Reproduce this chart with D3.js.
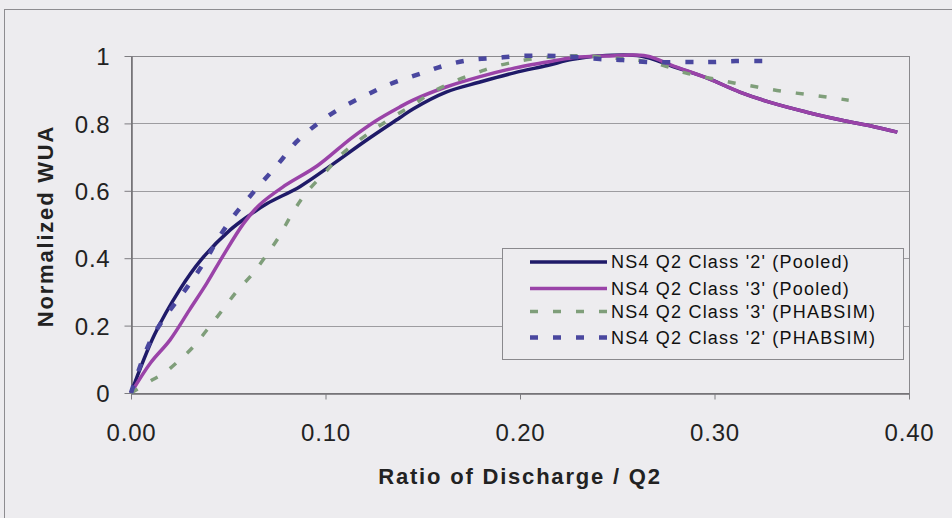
<!DOCTYPE html>
<html>
<head>
<meta charset="utf-8">
<script src="https://cdn.jsdelivr.net/npm/d3@7"></script>
<style>
  html, body { margin: 0; padding: 0; background: #edecef; }
  svg { display: block; font-family: "Liberation Sans", Arial, sans-serif; }
</style>
</head>
<body>
<svg id="chart" width="952" height="518"></svg>
<script>
// series values
var pooled2X = [0, 0.012, 0.025, 0.036, 0.051, 0.061, 0.070, 0.087, 0.104, 0.121, 0.138, 0.145, 0.162, 0.179, 0.197, 0.214, 0.227, 0.240, 0.262, 0.279, 0.296, 0.313, 0.330, 0.347, 0.365, 0.382, 0.394];
var pooled2Y = [0, 0.172, 0.306, 0.395, 0.484, 0.528, 0.562, 0.613, 0.680, 0.750, 0.816, 0.843, 0.893, 0.922, 0.950, 0.972, 0.990, 1.0, 1.0, 0.968, 0.935, 0.893, 0.860, 0.834, 0.810, 0.790, 0.774];

var pooled3X = [0, 0.010, 0.020, 0.030, 0.039, 0.047, 0.058, 0.066, 0.078, 0.096, 0.113, 0.126, 0.138, 0.145, 0.162, 0.179, 0.197, 0.214, 0.227, 0.245, 0.265, 0.279, 0.296, 0.313, 0.330, 0.347, 0.365, 0.382, 0.394];
var pooled3Y = [0, 0.089, 0.157, 0.246, 0.326, 0.404, 0.504, 0.558, 0.611, 0.675, 0.755, 0.808, 0.848, 0.869, 0.908, 0.938, 0.964, 0.982, 0.995, 1.0, 1.0, 0.970, 0.935, 0.893, 0.860, 0.834, 0.810, 0.790, 0.774];

var phab3X = [0, 0.011, 0.017, 0.025, 0.032, 0.039, 0.047, 0.055, 0.062, 0.069, 0.076, 0.083, 0.090, 0.101, 0.109, 0.123, 0.135, 0.145, 0.155, 0.168, 0.179, 0.186, 0.197, 0.210, 0.224, 0.234, 0.248, 0.260, 0.273, 0.285, 0.297, 0.310, 0.322, 0.334, 0.346, 0.358, 0.369];
var phab3Y = [0, 0.039, 0.059, 0.098, 0.137, 0.187, 0.246, 0.306, 0.350, 0.404, 0.463, 0.534, 0.593, 0.662, 0.712, 0.774, 0.820, 0.855, 0.893, 0.929, 0.953, 0.967, 0.982, 0.994, 1.0, 1.0, 0.994, 0.988, 0.973, 0.950, 0.935, 0.920, 0.908, 0.896, 0.887, 0.878, 0.869];

var phab2X = [0, 0.011, 0.029, 0.034, 0.041, 0.044, 0.052, 0.063, 0.076, 0.085, 0.097, 0.109, 0.121, 0.132, 0.150, 0.162, 0.174, 0.187, 0.200, 0.220, 0.241, 0.253, 0.265, 0.286, 0.298, 0.311, 0.325];
var phab2Y = [0, 0.166, 0.315, 0.356, 0.420, 0.450, 0.519, 0.596, 0.682, 0.745, 0.804, 0.849, 0.884, 0.914, 0.950, 0.973, 0.988, 0.994, 1.0, 1.0, 0.991, 0.988, 0.982, 0.982, 0.982, 0.985, 0.985];

var seriesNames = ["NS4 Q2 Class '2' (Pooled)", "NS4 Q2 Class '3' (Pooled)", "NS4 Q2 Class '3' (PHABSIM)", "NS4 Q2 Class '2' (PHABSIM)"];
var xTicks = [0, 0.1, 0.2, 0.3, 0.4];
var yTicks = [0, 0.2, 0.4, 0.6, 0.8, 1];

var svg = d3.select("#chart");

var plotLeft = 131, plotRight = 909, plotTop = 56, plotBottom = 393;

var x = d3.scaleLinear().domain([0, 0.4]).range([plotLeft, plotRight]);
var y = d3.scaleLinear().domain([0, 1]).range([plotBottom, plotTop]);

// outer chart frame (cropped at right / bottom)
svg.append("rect")
    .attr("x", 4.5).attr("y", 9.5)
    .attr("width", 1000).attr("height", 600)
    .attr("fill", "none")
    .attr("stroke", "#8d8c90")
    .attr("stroke-width", 1);

// gridlines
svg.append("g")
    .selectAll("line")
    .data(yTicks)
    .enter().append("line")
    .attr("x1", plotLeft).attr("x2", plotRight)
    .attr("y1", function (d) { return Math.round(y(d)) + 0.5; })
    .attr("y2", function (d) { return Math.round(y(d)) + 0.5; })
    .attr("stroke", "#9d9ca0")
    .attr("stroke-width", 1);

// plot frame
svg.append("rect")
    .attr("x", plotLeft + 0.5).attr("y", plotTop + 0.5)
    .attr("width", plotRight - plotLeft).attr("height", plotBottom - plotTop)
    .attr("fill", "none")
    .attr("stroke", "#8a898d")
    .attr("stroke-width", 1);

// axes
var xAxis = d3.axisBottom(x)
    .tickValues(xTicks)
    .tickFormat(d3.format(".2f"))
    .tickSizeInner(6)
    .tickSizeOuter(0)
    .tickPadding(24);

var gx = svg.append("g")
    .attr("transform", "translate(0," + (plotBottom + 0.5) + ")")
    .call(xAxis);

var yAxis = d3.axisLeft(y)
    .tickValues(yTicks)
    .tickFormat(function (d) { return d === 0 || d === 1 ? d3.format("d")(d) : d3.format(".1f")(d); })
    .tickSizeInner(7)
    .tickSizeOuter(0)
    .tickPadding(14);

var gy = svg.append("g")
    .attr("transform", "translate(" + (plotLeft + 0.5) + ",0)")
    .call(yAxis);

[gx, gy].forEach(function (g)
{
    g.select(".domain").attr("stroke", "#6f6e72").attr("stroke-width", 1.5);
    g.selectAll(".tick line").attr("stroke", "#7d7c80");
    g.selectAll(".tick text")
        .attr("fill", "#222")
        .style("font-size", "24px")
        .style("letter-spacing", "0.8px");
});
gy.selectAll(".tick text").attr("dy", "0.36em");

// axis titles
svg.append("text")
    .attr("x", 520).attr("y", 484)
    .attr("text-anchor", "middle")
    .style("font-size", "22px")
    .style("font-weight", "bold")
    .style("letter-spacing", "1.8px")
    .attr("fill", "#222")
    .text("Ratio of Discharge / Q2");

svg.append("text")
    .attr("transform", "translate(53,226) rotate(-90)")
    .attr("text-anchor", "middle")
    .style("font-size", "22px")
    .style("font-weight", "bold")
    .style("letter-spacing", "1.8px")
    .attr("fill", "#222")
    .text("Normalized WUA");

// lines
var series = [
    { xs: pooled2X, ys: pooled2Y, color: "#1f1a68", width: 3.5, dash: null },
    { xs: pooled3X, ys: pooled3Y, color: "#9a43a8", width: 3.5, dash: null },
    { xs: phab3X, ys: phab3Y, color: "#7f9e7a", width: 3.5, dash: "8,15" },
    { xs: phab2X, ys: phab2Y, color: "#4a479f", width: 4.5, dash: "8,15" }
];

var line = d3.line()
    .x(function (d) { return x(d[0]); })
    .y(function (d) { return y(d[1]); })
    .curve(d3.curveCatmullRom.alpha(0.5));

svg.append("g")
    .selectAll("path")
    .data(series)
    .enter().append("path")
    .attr("d", function (s) { return line(d3.zip(s.xs, s.ys)); })
    .attr("fill", "none")
    .attr("stroke", function (s) { return s.color; })
    .attr("stroke-width", function (s) { return s.width; })
    .attr("stroke-dasharray", function (s) { return s.dash; })
    .attr("stroke-linejoin", "round");

// legend
var legend = svg.append("g").attr("transform", "translate(502,248)");

legend.append("rect")
    .attr("x", 0.5).attr("y", 0.5)
    .attr("width", 401).attr("height", 111)
    .attr("fill", "#edecef")
    .attr("stroke", "#8a898d");

var rowY = [14, 40.5, 63.5, 89.5];

var item = legend.selectAll(".item")
    .data(series)
    .enter().append("g")
    .attr("class", "item")
    .attr("transform", function (d, i) { return "translate(0," + rowY[i] + ")"; });

item.append("line")
    .attr("x1", 28).attr("x2", 105)
    .attr("stroke", function (s) { return s.color; })
    .attr("stroke-width", function (s) { return s.width; })
    .attr("stroke-dasharray", function (s) { return s.dash; });

item.append("text")
    .attr("x", 109)
    .attr("dy", "0.36em")
    .style("font-size", "18px")
    .style("letter-spacing", "1.2px")
    .attr("fill", "#111")
    .text(function (d, i) { return seriesNames[i]; });
</script>
</body>
</html>
